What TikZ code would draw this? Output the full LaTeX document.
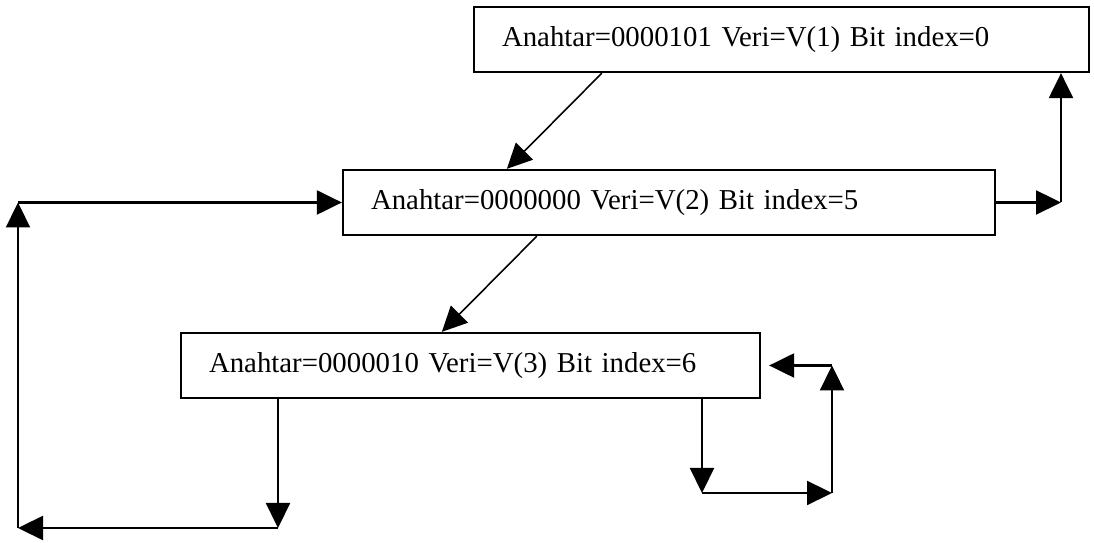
\documentclass[tikz,border=0pt]{standalone}
\usepackage{fontspec}
\setmainfont{Liberation Serif}
\usetikzlibrary{arrows.meta}

\begin{document}
\begin{tikzpicture}[
    >={Triangle[length=0.5cm, width=0.48cm]},
    font=\fontsize{16.4}{20}\selectfont,
    % Styles
    keybox/.style={
        rectangle, draw, line width=1.3pt,
        align=left, inner xsep=0.56cm,
        minimum height=1.3cm
    },
    link/.style={->, line width=1.3pt},
    slant/.style={->, line width=0.9pt},
]

\useasboundingbox (0,0) rectangle (21.88,10.86);

%--- Boxes ---%
\node[keybox, text width=11.18cm] (b1) at (15.63, 10.07) {Anahtar=0000101 Veri=V(1) Bit index=0};
\node[keybox, text width=11.92cm] (b2) at (13.38, 6.81) {Anahtar=0000000 Veri=V(2) Bit index=5};
\node[keybox, text width=10.46cm] (b3) at (9.41, 3.55) {Anahtar=0000010 Veri=V(3) Bit index=6};

%--- Corner points ---
\coordinate (r1) at (21.22, 6.81);
\coordinate (l1) at (5.56, 0.30);
\coordinate (l2) at (0.36, 0.30);
\coordinate (s1) at (14.04, 1.00);
\coordinate (s2) at (16.64, 1.00);
\coordinate (s3) at (16.64, 3.55);

%--- Left/right children ---
\draw[slant] ([xshift=2.58cm]b1.south west) -- ([xshift=3.30cm]b2.north west);
\draw[slant] ([xshift=3.90cm]b2.south west) -- ([xshift=5.24cm]b3.north west);

% b2 back up to b1
\draw[link] (b2.east) -- (r1);
\draw[link] (r1) -- (r1 |- b1.south);

% b3 back round to b2
\draw[link] (l1 |- b3.south) -- (l1);
\draw[link] (l1) -- (l2);
\draw[link] (l2) -- (l2 |- b2.west);
\draw[link] (l2 |- b2.west) -- (b2.west);

% b3 back to itself
\draw[link] (s1 |- b3.south) -- (s1);
\draw[link] (s1) -- (s2);
\draw[link] (s2) -- (s3);
\draw[link] (s3) -- ([xshift=0.16cm]b3.east);

\end{tikzpicture}
\end{document}
